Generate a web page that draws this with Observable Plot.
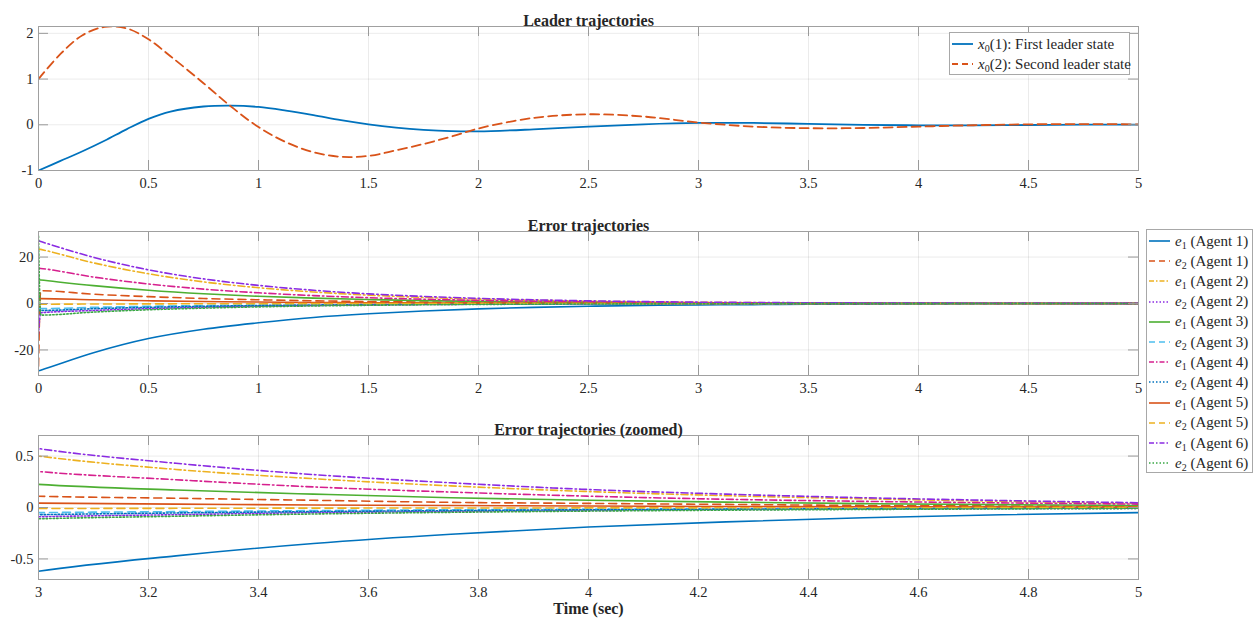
<!DOCTYPE html>
<html><head><meta charset="utf-8">
<script src="https://cdn.jsdelivr.net/npm/d3@7"></script>
<script src="https://cdn.jsdelivr.net/npm/@observablehq/plot@0.6"></script>
<style>
body{margin:0;background:#fff;}
#wrap{position:relative;width:1257px;height:624px;font-family:"Liberation Serif",serif;color:#262626;}
#wrap svg{display:block;font-family:"Liberation Serif",serif;}
#wrap svg text{font-family:"Liberation Serif",serif;}
.leg{position:absolute;background:#fff;border:1px solid #a8a8a8;box-sizing:border-box;font-size:15px;}
.row{position:absolute;left:0;height:20px;display:flex;align-items:center;white-space:nowrap;}
.row svg{flex:none;margin-right:3px;}
sub{font-size:10px;vertical-align:-3px;line-height:0;}
</style></head><body><div id="wrap"></div>
<script>
// ---------- Data ----------
const leaderT = [0,0.1,0.2,0.3,0.4,0.5,0.6,0.75,0.875,1,1.125,1.25,1.375,1.5,1.625,1.75,1.875,2,2.25,2.5,2.75,3,3.25,3.5,3.75,4,4.25,4.5,4.75,5];
const x0_1 = [-1,-0.79,-0.58,-0.35,-0.1,0.13,0.29,0.4,0.42,0.39,0.31,0.21,0.1,0.01,-0.06,-0.11,-0.14,-0.145,-0.1,-0.04,0.01,0.04,0.04,0.02,0.0,-0.012,-0.012,-0.005,0.002,0.004];
const x0_2 = [1,1.55,1.96,2.14,2.11,1.87,1.5,0.91,0.4,-0.05,-0.38,-0.6,-0.7,-0.68,-0.56,-0.42,-0.26,-0.08,0.15,0.23,0.18,0.05,-0.04,-0.075,-0.07,-0.04,-0.01,0.01,0.015,0.01];

const errT = [0,0.01,0.25,0.5,0.75,1,1.25,1.5,1.75,2,2.25,2.5,2.75,3,3.25,3.5,3.75,4,4.25,4.5,4.75,5];
const e1_A1 = [-29,-28.7,-21.2,-15.1,-11.1,-8.3,-6.0,-4.4,-3.2,-2.3,-1.65,-1.2,-0.86,-0.62,-0.47,-0.35,-0.26,-0.19,-0.14,-0.10,-0.07,-0.05];
const e2_A1 = [-27,5.5,4.0,2.95,2.15,1.6,1.15,0.85,0.62,0.45,0.33,0.24,0.16,0.11,0.09,0.07,0.05,0.04,0.03,0.02,0.015,0.01];
const e1_A2 = [23.5,23.3,17.5,12.8,9.3,6.8,4.95,3.6,2.6,1.9,1.38,1.0,0.71,0.50,0.37,0.28,0.21,0.155,0.115,0.085,0.06,0.042];
const e2_A2 = [-13,-4,-3.0,-2.2,-1.6,-1.15,-0.85,-0.62,-0.45,-0.33,-0.24,-0.17,-0.125,-0.09,-0.07,-0.05,-0.04,-0.03,-0.02,-0.015,-0.01,-0.008];
const e1_A3 = [10.2,10.1,7.7,5.7,4.2,3.1,2.3,1.7,1.22,0.9,0.65,0.47,0.33,0.225,0.17,0.13,0.095,0.07,0.052,0.038,0.028,0.02];
const e2_A3 = [-2.2,-2.2,-1.65,-1.2,-0.88,-0.64,-0.47,-0.34,-0.25,-0.18,-0.13,-0.095,-0.07,-0.05,-0.04,-0.03,-0.022,-0.016,-0.012,-0.009,-0.006,-0.004];
const e1_A4 = [15.2,15.1,11.4,8.4,6.2,4.6,3.4,2.5,1.85,1.35,0.98,0.71,0.5,0.35,0.27,0.2,0.15,0.11,0.08,0.06,0.045,0.033];
const e2_A4 = [-3,-3,-2.25,-1.65,-1.2,-0.88,-0.64,-0.47,-0.34,-0.25,-0.18,-0.13,-0.095,-0.07,-0.053,-0.04,-0.03,-0.022,-0.016,-0.012,-0.009,-0.006];
const e1_A5 = [2.1,2.1,1.6,1.17,0.86,0.63,0.46,0.34,0.25,0.18,0.13,0.09,0.063,0.043,0.033,0.025,0.019,0.014,0.01,0.008,0.006,0.004];
const e2_A5 = [-0.3,-0.3,-0.22,-0.16,-0.12,-0.09,-0.065,-0.05,-0.036,-0.027,-0.02,-0.016,-0.013,-0.01,-0.008,-0.006,-0.005,-0.004,-0.003,-0.002,-0.0015,-0.001];
const e1_A6 = [27,26.7,19.9,14.5,10.6,7.8,5.7,4.15,3.05,2.2,1.6,1.15,0.82,0.573,0.43,0.32,0.24,0.175,0.13,0.095,0.068,0.046];
const e2_A6 = [29,-5,-3.7,-2.7,-2.0,-1.45,-1.05,-0.77,-0.56,-0.41,-0.3,-0.21,-0.155,-0.11,-0.085,-0.063,-0.047,-0.035,-0.026,-0.019,-0.014,-0.01];

const xTicksFull = [0,0.5,1,1.5,2,2.5,3,3.5,4,4.5,5];
const xTicksZoom = [3,3.2,3.4,3.6,3.8,4,4.2,4.4,4.6,4.8,5];
const yTicksLeader = [-1,0,1,2];
const yTicksErr = [-20,0,20];
const yTicksZoom = [-0.5,0,0.5];

const errNames = [["1","1"],["2","1"],["1","2"],["2","2"],["1","3"],["2","3"],["1","4"],["2","4"],["1","5"],["2","5"],["1","6"],["2","6"]];
const errValues = [e1_A1,e2_A1,e1_A2,e2_A2,e1_A3,e2_A3,e1_A4,e2_A4,e1_A5,e2_A5,e1_A6,e2_A6];

// ---------- Styles ----------
const FONT = '"Liberation Serif", serif';
const DASH = "8,5", DASHDOT = "7,3,1.5,3", DOT = "1.5,2";
const errStyles = [
  {c:"#0072BD", d:null},
  {c:"#D95319", d:DASH},
  {c:"#EDB120", d:DASHDOT},
  {c:"#8A2BE2", d:DOT},
  {c:"#4DAF32", d:null},
  {c:"#4DBEEE", d:DASH},
  {c:"#D6208E", d:DASHDOT},
  {c:"#0072BD", d:DOT},
  {c:"#D95319", d:null},
  {c:"#EDB120", d:DASH},
  {c:"#8A2BE2", d:DASHDOT},
  {c:"#3AA845", d:DOT}
];
const leaderStyles = [{c:"#0072BD", d:null},{c:"#D95319", d:"9,5"}];

const W = 1257, ML = 38, MR = 119, PW = W - ML - MR;
const fmt = d => String(d);

function panel({height, mt, mb, xDomain, yDomain, xTicks, yTicks, lines, title, xLabel}) {
  const PH = height - mt - mb;
  const marks = [
    Plot.gridX(xTicks, {stroke:"#000", strokeOpacity:0.08}),
    Plot.gridY(yTicks, {stroke:"#000", strokeOpacity:0.08}),
    ...lines,
    Plot.tickX(xTicks, {x:d=>d, insetTop:PH-10, stroke:"#9a9a9a"}),
    Plot.tickX(xTicks, {x:d=>d, insetBottom:PH-10, stroke:"#9a9a9a"}),
    Plot.tickY(yTicks, {y:d=>d, insetRight:PW-10, stroke:"#9a9a9a"}),
    Plot.tickY(yTicks, {y:d=>d, insetLeft:PW-10, stroke:"#9a9a9a"}),
    Plot.frame({stroke:"#a0a0a0"}),
    Plot.axisX(xTicks, {tickSize:0, tickPadding:7, tickFormat:fmt, fontSize:14.5, fontFamily:FONT, fill:"#262626", label:null}),
    Plot.axisY(yTicks, {tickSize:0, tickPadding:5, tickFormat:fmt, fontSize:14.5, fontFamily:FONT, fill:"#262626", label:null}),
    Plot.text([title], {text:d=>d, frameAnchor:"top", dy:-12, fontWeight:"bold", fontSize:16, fontFamily:FONT, fill:"#262626"})
  ];
  if (xLabel) marks.push(Plot.text([xLabel], {text:d=>d, frameAnchor:"bottom", dy:34, fontWeight:"bold", fontSize:16, fontFamily:FONT, fill:"#262626"}));
  return Plot.plot({
    width: W, height, marginLeft: ML, marginRight: MR, marginTop: mt, marginBottom: mb,
    x: {domain: xDomain}, y: {domain: yDomain},
    style: {fontFamily: FONT, color: "#262626", background: "#fff"},
    marks
  });
}

function errLines() {
  return errValues.map((vals, i) => {
    const rows = errT.map((t, j) => ({t, v: vals[j]}));
    return Plot.line(rows, {x:"t", y:"v", stroke: errStyles[i].c, strokeDasharray: errStyles[i].d,
      strokeWidth: 1.6, curve: "monotone-x", clip: true});
  });
}
const leaderLines = [x0_1, x0_2].map((vals, i) => {
  const rows = leaderT.map((t, j) => ({t, v: vals[j]}));
  return Plot.line(rows, {x:"t", y:"v", stroke: leaderStyles[i].c, strokeDasharray: leaderStyles[i].d,
    strokeWidth: 1.8, curve: "catmull-rom", clip: true});
});

const wrap = document.getElementById("wrap");
wrap.append(panel({height:200, mt:26, mb:30, xDomain:[0,5], yDomain:[-1,2.15],
  xTicks:xTicksFull, yTicks:yTicksLeader, lines:leaderLines, title:"Leader trajectories"}));
wrap.append(panel({height:204, mt:31, mb:29, xDomain:[0,5], yDomain:[-31,31],
  xTicks:xTicksFull, yTicks:yTicksErr, lines:errLines(), title:"Error trajectories"}));
wrap.append(panel({height:220, mt:31, mb:45, xDomain:[3,5], yDomain:[-0.7,0.7],
  xTicks:xTicksZoom, yTicks:yTicksZoom, lines:errLines(), title:"Error trajectories (zoomed)", xLabel:"Time (sec)"}));
wrap.querySelectorAll("svg text").forEach(t => { t.style.fontFamily = FONT; });

// ---------- Legends ----------
function sample(len, c, d, w) {
  return `<svg width="${len+4}" height="10"><line x1="2" y1="5" x2="${len+2}" y2="5" stroke="${c}" stroke-width="${w}" ${d?`stroke-dasharray="${d}"`:""}/></svg>`;
}
const leg1 = document.createElement("div");
leg1.className = "leg";
Object.assign(leg1.style, {left:"949px", top:"32px", width:"181px", height:"43px"});
const leaderLabels = [["1","First leader state"],["2","Second leader state"]];
leaderLabels.forEach((lab, i) => {
  const r = document.createElement("div");
  r.className = "row";
  r.style.top = (1 + i*20) + "px";
  r.innerHTML = sample(21, leaderStyles[i].c, leaderStyles[i].d ? "6,4" : null, 1.8) +
    `<span><i>x</i><sub>0</sub>(${lab[0]}): ${lab[1]}</span>`;
  leg1.append(r);
});
wrap.append(leg1);

const leg2 = document.createElement("div");
leg2.className = "leg";
Object.assign(leg2.style, {left:"1146px", top:"229px", width:"107px", height:"244px"});
errNames.forEach((n, i) => {
  const r = document.createElement("div");
  r.className = "row";
  r.style.top = (1 + i*20.2) + "px";
  const st = errStyles[i];
  const d = st.d === DASH ? "6,4" : st.d === DASHDOT ? "5,2,1.5,2" : st.d;
  r.innerHTML = sample(21, st.c, d, 1.6) + `<span><i>e</i><sub>${n[0]}</sub> (Agent ${n[1]})</span>`;
  leg2.append(r);
});
wrap.append(leg2);
</script></body></html>
